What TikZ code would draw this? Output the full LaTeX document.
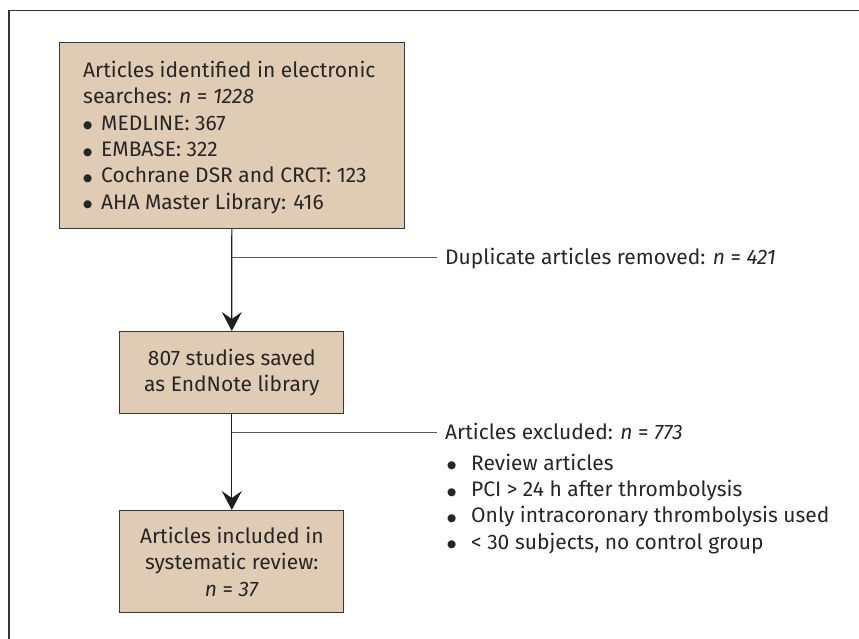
\documentclass[tikz,border=0pt]{standalone}
\usepackage{fontspec}
\setmainfont{Fira Sans}
\newfontfamily\blfont{DejaVu Sans}
\usetikzlibrary{arrows.meta}
\definecolor{boxfill}{RGB}{224,203,181}
\definecolor{boxline}{RGB}{55,55,55}
\definecolor{txtcol}{RGB}{38,38,38}
\definecolor{branchcol}{RGB}{90,90,90}
\newcommand\myblt[1]{\makebox[#1][l]{\raisebox{1.2pt}{\blfont\fontsize{10.5}{10}\selectfont ●}}}
\begin{document}
\begin{tikzpicture}[x=1pt,y=-1pt,
  box/.style={draw=boxline, fill=boxfill, line width=1pt, inner sep=0pt, anchor=north west},
  txt/.style={text=txtcol, inner sep=0pt, font=\fontsize{21}{26.3}\selectfont},
  flow/.style={draw=black!88, line width=1.2pt, -{Stealth[length=19pt,width=20pt,inset=7pt]}},
  branch/.style={draw=branchcol, line width=1pt},
  frame/.style={draw=black!80, line width=1.4pt}]
\useasboundingbox (0,0) rectangle (859,638);
\draw[frame] (870,10.7) -- (9,10.7) -- (9,650);
% boxes
\node[box, minimum width=345.3pt, minimum height=186.3pt] (b1) at (58.7,41.7) {};
\node[box, minimum width=224pt, minimum height=82.3pt] (b2) at (119.3,331) {};
\node[box, minimum width=224pt, minimum height=102.3pt] (b3) at (119.3,510) {};
% box texts
\node[txt, anchor=north west, align=left] (t1) at (83,61) {Articles identified in electronic\\
searches: \textit{n} = \textit{1228}\\
\myblt{18pt}MEDLINE: 367\\
\myblt{18pt}EMBASE: 322\\
\myblt{18pt}Cochrane DSR and CRCT: 123\\
\myblt{18pt}AHA Master Library: 416};
\node[txt, align=center] (t2) at (b2.center) {807 studies saved\\as EndNote library};
\node[txt, align=center] (t3) at (b3.center) {Articles included in\\systematic review:\\\textit{n} = \textit{37}};
% side texts
\node[txt, anchor=base west] (s1) at (445,264.3) {Duplicate articles removed: \textit{n} = \textit{421}};
\node[txt, anchor=base west] (s2) at (445,439.5) {Articles excluded: \textit{n} = \textit{773}};
\node[txt, anchor=north west, align=left] (s3) at (447,453.6) {\myblt{24pt}Review articles\\
\myblt{24pt}PCI > 24 h after thrombolysis\\
\myblt{24pt}Only intracoronary thrombolysis used\\
\myblt{24pt}< 30 subjects, no control group};
% connectors
\draw[flow] (b1.south) -- (b2.north);
\draw[flow] (b2.south) -- (b3.north);
\coordinate (j1) at (b1.south |- 0,257);
\coordinate (j2) at (b2.south |- 0,432.3);
\draw[branch] (j1) -- (437,257) coordinate (e1);
\draw[branch] (j2) -- (437,432.3) coordinate (e2);
\end{tikzpicture}
\end{document}
